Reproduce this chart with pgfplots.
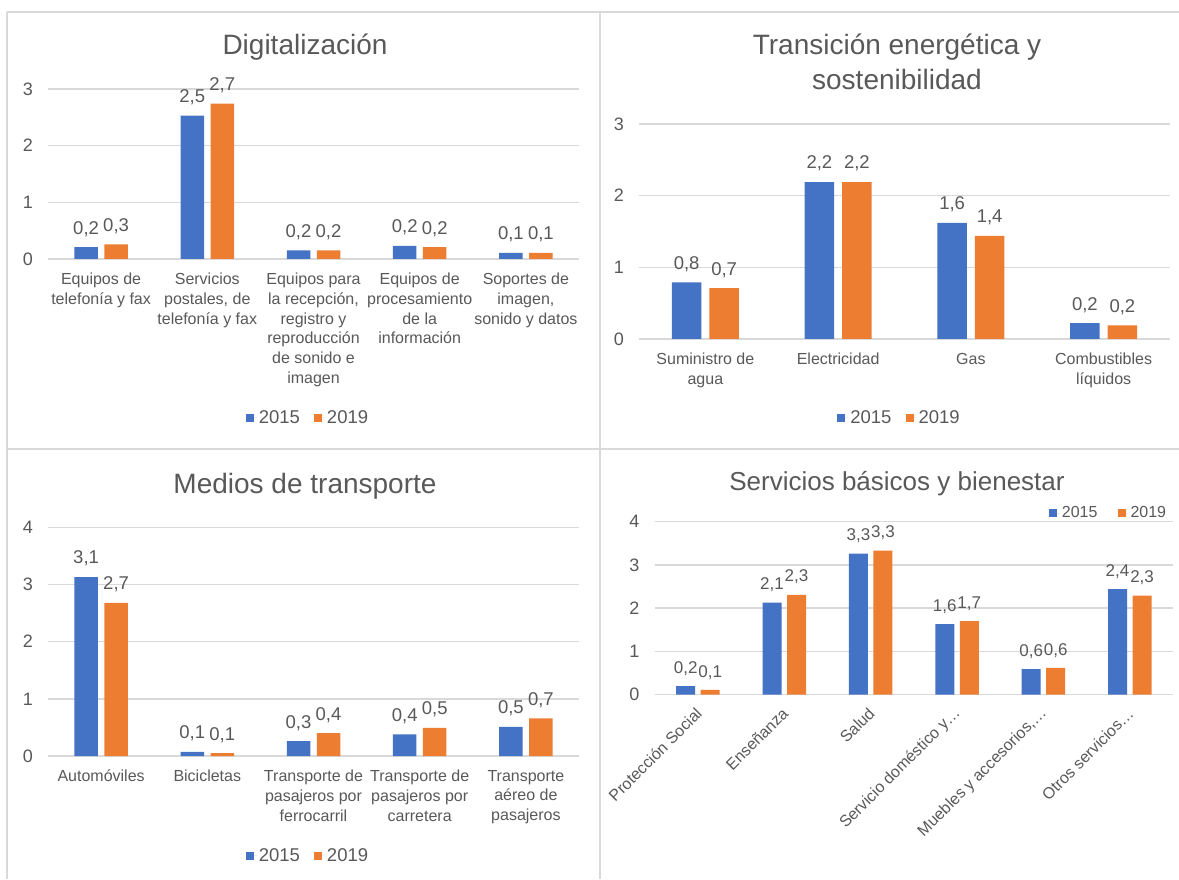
\documentclass[border=0pt]{standalone}
\usepackage{fontspec}
\setmainfont{Liberation Sans}
\usepackage{pgfplots}
\usepackage{pgfplotstable}
\pgfplotsset{compat=1.18}
\definecolor{cblue}{HTML}{4472C4}
\definecolor{corange}{HTML}{ED7D31}
\definecolor{txt}{HTML}{595959}
\definecolor{gridc}{HTML}{D9D9D9}

\pgfplotstableread{
x y15 l15 y19 l19
0 0.21 0,2 0.26 0,3
1 2.53 2,5 2.74 2,7
2 0.15 0,2 0.15 0,2
3 0.23 0,2 0.21 0,2
4 0.11 0,1 0.11 0,1
}\tdig

\pgfplotstableread{
x y15 l15 y19 l19
0 0.79 0,8 0.71 0,7
1 2.19 2,2 2.19 2,2
2 1.62 1,6 1.44 1,4
3 0.22 0,2 0.19 0,2
}\tene

\pgfplotstableread{
x y15 l15 y19 l19
0 3.13 3,1 2.68 2,7
1 0.07 0,1 0.05 0,1
2 0.26 0,3 0.40 0,4
3 0.38 0,4 0.49 0,5
4 0.51 0,5 0.66 0,7
}\ttra

\pgfplotstableread{
x y15 l15 y19 l19
0 0.20 0,2 0.11 0,1
1 2.13 2,1 2.31 2,3
2 3.26 3,3 3.33 3,3
3 1.63 1,6 1.70 1,7
4 0.59 0,6 0.62 0,6
5 2.44 2,4 2.29 2,3
}\tser

\pgfplotsset{
  panel/.style={
    scale only axis, anchor=south west, enlargelimits=false, clip=false,
    axis line style={draw=none}, major tick length=0pt, tick style={draw=none},
    ymajorgrids, grid style={draw=gridc, line width=1.5pt},
    ymin=0,
    /pgf/number format/assume math mode=true,
    yticklabel style={font=\fontsize{18}{21}\selectfont, text=txt, anchor=east, inner sep=0pt, xshift=-15pt},
    ybar,
    nodes near coords, point meta=explicit symbolic,
    nodes near coords style={font=\fontsize{18.5}{21}\selectfont, text=txt, anchor=south, inner sep=0pt, yshift=10.5pt},
    legend style={draw=none, fill=none, legend columns=-1, anchor=center, text=txt,
      font=\fontsize{18.5}{22}\selectfont, /tikz/every even column/.append style={column sep=12pt}},
  },
  sq/.style={legend image code/.code={\fill[##1] (0pt,-4pt) rectangle (8pt,4pt); \path (0pt,0pt) -- (11pt,0pt);}},
  b15/.style={fill=cblue, draw=none},
  b19/.style={fill=corange, draw=none},
}

\begin{document}
\begin{tikzpicture}
\useasboundingbox (0pt,0pt) rectangle (1179pt,879pt);
\fill[white] (0pt,0pt) rectangle (1179pt,879pt);

% panel borders
\draw[gridc, line width=2.5pt] (7pt,867pt) -- (1179pt,867pt);
\draw[gridc, line width=2.5pt] (7pt,867pt) -- (7pt,0pt);
\draw[gridc, line width=2.5pt] (600pt,867pt) -- (600pt,0pt);
\draw[gridc, line width=2.5pt] (7pt,430pt) -- (1179pt,430pt);

% titles
\node[anchor=base, text=txt, font=\fontsize{28}{32}\selectfont] at (305pt,824pt) {Digitalización};
\node[anchor=base, text=txt, font=\fontsize{28}{32}\selectfont] at (897pt,824pt) {Transición energética y};
\node[anchor=base, text=txt, font=\fontsize{28}{32}\selectfont] at (897pt,789pt) {sostenibilidad};
\node[anchor=base, text=txt, font=\fontsize{28}{32}\selectfont] at (305pt,385.7pt) {Medios de transporte};
\node[anchor=base, text=txt, font=\fontsize{26}{30}\selectfont] at (897pt,388.3pt) {Servicios básicos y bienestar};

% Panel 1
\begin{axis}[panel, at={(48pt,620pt)}, width=531pt, height=170pt,
  xmin=-0.5, xmax=4.5, ymax=3, ytick={0,1,2,3}, xtick={0,1,2,3,4},
  xticklabels={{Equipos de\\telefonía y fax},{Servicios\\postales, de\\telefonía y fax},{Equipos para\\la recepción,\\registro y\\reproducción\\de sonido e\\imagen},{Equipos de\\procesamiento\\de la\\información},{Soportes de\\imagen,\\sonido y datos}},
  xticklabel style={font=\fontsize{16}{19.7}\selectfont, text=txt, align=center, anchor=north, inner sep=0pt, yshift=-14pt},
  bar width=23.5pt, ybar=6.5pt, sq,
  legend style={at={(0.4896,-0.935)}}]
\addplot[b15] table[x=x, y=y15, meta=l15] {\tdig};
\addplot[b19] table[x=x, y=y19, meta=l19] {\tdig};
\legend{2015,2019}
\end{axis}

% Panel 2
\begin{axis}[panel, at={(639pt,540pt)}, width=531pt, height=215pt,
  xmin=-0.5, xmax=3.5, ymax=3, ytick={0,1,2,3}, xtick={0,1,2,3},
  xticklabels={{Suministro de\\agua},{Electricidad},{Gas},{Combustibles\\líquidos}},
  xticklabel style={font=\fontsize{16}{19.7}\selectfont, text=txt, align=center, anchor=north, inner sep=0pt, yshift=-14pt},
  bar width=29.5pt, ybar=8pt, sq,
  legend style={at={(0.4906,-0.367)}}]
\addplot[b15] table[x=x, y=y15, meta=l15] {\tene};
\addplot[b19] table[x=x, y=y19, meta=l19] {\tene};
\legend{2015,2019}
\end{axis}

% Panel 3
\begin{axis}[panel, at={(48pt,123pt)}, width=531pt, height=228.7pt,
  xmin=-0.5, xmax=4.5, ymax=4, ytick={0,1,2,3,4}, xtick={0,1,2,3,4},
  xticklabels={{Automóviles},{Bicicletas},{Transporte de\\pasajeros por\\ferrocarril},{Transporte de\\pasajeros por\\carretera},{Transporte\\aéreo de\\pasajeros}},
  xticklabel style={font=\fontsize{16}{19.7}\selectfont, text=txt, align=center, anchor=north, inner sep=0pt, yshift=-14pt},
  bar width=23.5pt, ybar=6.5pt, sq,
  legend style={at={(0.4896,-0.436)}}]
\addplot[b15] table[x=x, y=y15, meta=l15] {\ttra};
\addplot[b19] table[x=x, y=y19, meta=l19] {\ttra};
\legend{2015,2019}
\end{axis}

% Panel 4
\begin{axis}[panel, at={(654.7pt,184.3pt)}, width=518.3pt, height=173pt,
  xmin=-0.5, xmax=5.5, ymax=4, ytick={0,1,2,3,4}, xtick={0,1,2,3,4,5},
  xticklabels={{Protección Social},{Enseñanza},{Salud},{Servicio doméstico y…},{Muebles y accesorios,…},{Otros servicios…}},
  xticklabel style={font=\fontsize{16}{19.7}\selectfont, text=txt, anchor=east, inner sep=0pt, xshift=1pt, yshift=-16pt, rotate=45},
  bar width=19pt, ybar=5.5pt, sq,
  nodes near coords style={font=\fontsize{17}{20}\selectfont},
  legend style={at={(0.8756,1.050)}, font=\fontsize{16}{19}\selectfont, /tikz/every even column/.append style={column sep=18pt}}]
\addplot[b15] table[x=x, y=y15, meta=l15] {\tser};
\addplot[b19] table[x=x, y=y19, meta=l19] {\tser};
\legend{2015,2019}
\end{axis}
\end{tikzpicture}
\end{document}
